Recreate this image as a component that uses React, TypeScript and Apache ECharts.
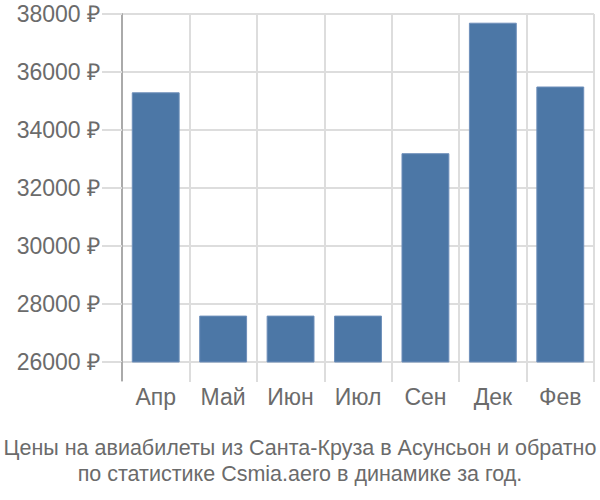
import React, { useEffect, useRef } from "react";
import * as echarts from "echarts";

const categories = ["Апр", "Май", "Июн", "Июл", "Сен", "Дек", "Фев"];
const prices = [35300, 27600, 27600, 27600, 33200, 37700, 35500];
const yMin = 26000;
const yMax = 38000;
const yStep = 2000;
const titleLines = [
  "Цены на авиабилеты из Санта-Круза в Асунсьон и обратно",
  "по статистике Csmia.aero в динамике за год.",
];

export default function App() {
  const ref = useRef<HTMLDivElement>(null);
  useEffect(() => {
    if (!ref.current) return;
    const chart = echarts.init(ref.current, null, { renderer: "svg" });
    const font = "'Liberation Sans', Arial, sans-serif";
    chart.setOption({
      animation: false,
      grid: { left: 122, right: 6, top: 14, bottom: 138, containLabel: false },
      title: {
        text: titleLines.join("\n"),
        left: "center",
        top: 430,
        textStyle: {
          fontFamily: font,
          fontSize: 21.5,
          fontWeight: "normal",
          color: "#6b6b6b",
          lineHeight: 26,
        },
      },
      xAxis: {
        type: "category",
        data: categories,
        boundaryGap: true,
        axisLine: { show: false },
        axisTick: {
          show: true,
          length: 20,
          interval: 0,
          lineStyle: { color: "#dddddd", width: 2 },
        },
        splitLine: { show: true, interval: 0, lineStyle: { color: "#dddddd", width: 2 } },
        axisLabel: {
          margin: 23,
          fontFamily: font,
          fontSize: 23,
          color: "#6b6b6b",
          interval: 0,
        },
      },
      yAxis: {
        type: "value",
        min: yMin,
        max: yMax,
        interval: yStep,
        axisLine: { show: true, lineStyle: { color: "#aaaaaa", width: 2 } },
        axisTick: { show: true, length: 20, lineStyle: { color: "#dddddd", width: 2 } },
        splitLine: { show: true, lineStyle: { color: "#dddddd", width: 2 } },
        axisLabel: {
          margin: 22,
          fontFamily: font,
          fontSize: 23,
          color: "#6b6b6b",
          formatter: (v: number) => `${v} ₽`,
        },
      },
      graphic: [
        {
          type: "line",
          shape: { x1: 122, y1: 362, x2: 122, y2: 381 },
          style: { stroke: "#aaaaaa", lineWidth: 2 },
          z: 10,
        },
      ],
      series: [
        {
          type: "bar",
          data: prices,
          barWidth: "71%",
          itemStyle: {
            color: "#4c77a6",
            borderColor: "#6e8fba",
            borderWidth: 1,
          },
        },
      ],
    });
    return () => chart.dispose();
  }, []);
  return <div ref={ref} style={{ width: 600, height: 500, position: "absolute", left: 0, top: 0 }} />;
}
